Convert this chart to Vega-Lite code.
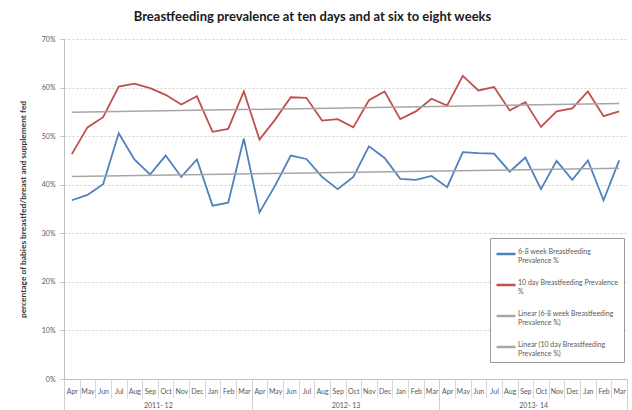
{
  "$schema": "https://vega.github.io/schema/vega-lite/v6.json",
  "width": 563,
  "height": 340,
  "autosize": "none",
  "padding": {"left": 64, "top": 39, "right": 5, "bottom": 31},
  "background": "white",
  "config": {
    "font": "Lato",
    "view": {"stroke": null}
  },
  "title": {
    "text": "Breastfeeding prevalence at ten days and at six to eight weeks",
    "fontSize": 13,
    "fontWeight": "bold",
    "font": "Lato",
    "color": "#1a1a1a",
    "anchor": "middle",
    "frame": "group",
    "dx": -33,
    "offset": 11
  },
  "data": {
    "values": [
      {"i": 0, "month": "Apr", "fy": "2011- 12", "w68": 0.368, "d10": 0.463},
      {"i": 1, "month": "May", "fy": "2011- 12", "w68": 0.379, "d10": 0.518},
      {"i": 2, "month": "Jun", "fy": "2011- 12", "w68": 0.401, "d10": 0.539},
      {"i": 3, "month": "Jul", "fy": "2011- 12", "w68": 0.506, "d10": 0.602},
      {"i": 4, "month": "Aug", "fy": "2011- 12", "w68": 0.452, "d10": 0.608},
      {"i": 5, "month": "Sep", "fy": "2011- 12", "w68": 0.421, "d10": 0.599},
      {"i": 6, "month": "Oct", "fy": "2011- 12", "w68": 0.460, "d10": 0.585},
      {"i": 7, "month": "Nov", "fy": "2011- 12", "w68": 0.416, "d10": 0.565},
      {"i": 8, "month": "Dec", "fy": "2011- 12", "w68": 0.452, "d10": 0.582},
      {"i": 9, "month": "Jan", "fy": "2011- 12", "w68": 0.357, "d10": 0.509},
      {"i": 10, "month": "Feb", "fy": "2011- 12", "w68": 0.363, "d10": 0.515},
      {"i": 11, "month": "Mar", "fy": "2011- 12", "w68": 0.495, "d10": 0.592},
      {"i": 12, "month": "Apr", "fy": "2012- 13", "w68": 0.343, "d10": 0.493},
      {"i": 13, "month": "May", "fy": "2012- 13", "w68": 0.398, "d10": 0.534},
      {"i": 14, "month": "Jun", "fy": "2012- 13", "w68": 0.460, "d10": 0.580},
      {"i": 15, "month": "Jul", "fy": "2012- 13", "w68": 0.453, "d10": 0.579},
      {"i": 16, "month": "Aug", "fy": "2012- 13", "w68": 0.416, "d10": 0.532},
      {"i": 17, "month": "Sep", "fy": "2012- 13", "w68": 0.391, "d10": 0.535},
      {"i": 18, "month": "Oct", "fy": "2012- 13", "w68": 0.416, "d10": 0.518},
      {"i": 19, "month": "Nov", "fy": "2012- 13", "w68": 0.479, "d10": 0.574},
      {"i": 20, "month": "Dec", "fy": "2012- 13", "w68": 0.455, "d10": 0.592},
      {"i": 21, "month": "Jan", "fy": "2012- 13", "w68": 0.412, "d10": 0.535},
      {"i": 22, "month": "Feb", "fy": "2012- 13", "w68": 0.410, "d10": 0.551},
      {"i": 23, "month": "Mar", "fy": "2012- 13", "w68": 0.418, "d10": 0.577},
      {"i": 24, "month": "Apr", "fy": "2013- 14", "w68": 0.395, "d10": 0.563},
      {"i": 25, "month": "May", "fy": "2013- 14", "w68": 0.467, "d10": 0.624},
      {"i": 26, "month": "Jun", "fy": "2013- 14", "w68": 0.465, "d10": 0.594},
      {"i": 27, "month": "Jul", "fy": "2013- 14", "w68": 0.464, "d10": 0.601},
      {"i": 28, "month": "Aug", "fy": "2013- 14", "w68": 0.427, "d10": 0.553},
      {"i": 29, "month": "Sep", "fy": "2013- 14", "w68": 0.456, "d10": 0.570},
      {"i": 30, "month": "Oct", "fy": "2013- 14", "w68": 0.391, "d10": 0.519},
      {"i": 31, "month": "Nov", "fy": "2013- 14", "w68": 0.449, "d10": 0.551},
      {"i": 32, "month": "Dec", "fy": "2013- 14", "w68": 0.410, "d10": 0.557},
      {"i": 33, "month": "Jan", "fy": "2013- 14", "w68": 0.450, "d10": 0.592},
      {"i": 34, "month": "Feb", "fy": "2013- 14", "w68": 0.368, "d10": 0.541},
      {"i": 35, "month": "Mar", "fy": "2013- 14", "w68": 0.450, "d10": 0.551}
    ]
  },
  "transform": [
    {"fold": ["w68", "d10"], "as": ["series", "value"]}
  ],
  "encoding": {
    "y": {
      "field": "value",
      "type": "quantitative",
      "scale": {"domain": [0, 0.7], "nice": false, "zero": true},
      "axis": {
        "values": [0, 0.1, 0.2, 0.3, 0.4, 0.5, 0.6, 0.7],
        "format": ".0%",
        "title": "percentage of babies breastfed/breast and supplement fed",
        "titleFontSize": 8.4,
        "titleFontWeight": "bold",
        "titleColor": "#333333",
        "titleX": -37,
        "titleY": 170,
        "titleAnchor": "middle",
        "labelFontSize": 7,
        "labelColor": "#595959",
        "labelPadding": 5,
        "tickSize": 4,
        "tickColor": "#bfbfbf",
        "domainColor": "#bfbfbf",
        "grid": true,
        "gridColor": "#d0d0d0",
        "gridDash": [2, 2],
        "gridWidth": 1
      }
    }
  },
  "layer": [
    {
      "mark": {"type": "line", "strokeWidth": 1.8},
      "encoding": {
        "x": {
          "field": "i",
          "type": "quantitative",
          "scale": {"domain": [-0.5, 35.5], "nice": false, "zero": false},
          "axis": {
            "orient": "bottom",
            "title": null,
            "values": [0,1,2,3,4,5,6,7,8,9,10,11,12,13,14,15,16,17,18,19,20,21,22,23,24,25,26,27,28,29,30,31,32,33,34,35],
            "labelExpr": "['Apr','May','Jun','Jul','Aug','Sep','Oct','Nov','Dec','Jan','Feb','Mar'][datum.value % 12]",
            "ticks": false,
            "grid": false,
            "labelFontSize": 7,
            "labelColor": "#595959",
            "labelPadding": 8,
            "labelFlush": false,
            "labelOverlap": false,
            "domainColor": "#bfbfbf"
          }
        },
        "color": {
          "field": "series",
          "type": "nominal",
          "scale": {
            "domain": ["w68", "d10", "lin68", "lin10"],
            "range": ["#4f81bd", "#c0504d", "#a6a6a6", "#a6a6a6"]
          },
          "legend": {
            "title": null,
            "orient": "none",
            "legendX": 426,
            "legendY": 199,
            "direction": "vertical",
            "symbolType": "stroke",
            "symbolSize": 360,
            "symbolStrokeWidth": 2.5,
            "labelFontSize": 7,
            "labelColor": "#595959",
            "labelLimit": 200,
            "labelBaseline": "alphabetic",
            "labelOffset": 1,
            "rowPadding": 10,
            "padding": 5,
            "strokeColor": "#9a9a9a",
            "fillColor": "white",
            "labelExpr": "datum.value == 'w68' ? ['6-8 week Breastfeeding', 'Prevalence %'] : datum.value == 'd10' ? ['10 day Breastfeeding Prevalence', '%'] : datum.value == 'lin68' ? ['Linear (6-8 week Breastfeeding', 'Prevalence %)'] : ['Linear (10 day Breastfeeding', 'Prevalence %)']"
          }
        }
      }
    },
    {
      "transform": [
        {"filter": "datum.series == 'w68'"},
        {"regression": "value", "on": "i"}
      ],
      "mark": {"type": "line", "strokeWidth": 1.5},
      "encoding": {
        "x": {
          "field": "i",
          "type": "quantitative",
          "scale": {"domain": [-0.5, 35.5], "nice": false, "zero": false},
          "axis": {
            "orient": "bottom",
            "title": null,
            "values": [0.5,1.5,2.5,3.5,4.5,5.5,6.5,7.5,8.5,9.5,10.5,12.5,13.5,14.5,15.5,16.5,17.5,18.5,19.5,20.5,21.5,22.5,24.5,25.5,26.5,27.5,28.5,29.5,30.5,31.5,32.5,33.5,34.5],
            "labels": false,
            "ticks": true,
            "tickSize": 19,
            "tickColor": "#d9d9d9",
            "domain": false,
            "grid": false
          }
        },
        "color": {"datum": "lin68"}
      }
    },
    {
      "transform": [
        {"filter": "datum.series == 'd10'"},
        {"regression": "value", "on": "i"}
      ],
      "mark": {"type": "line", "strokeWidth": 1.5},
      "encoding": {
        "x": {
          "field": "i",
          "type": "quantitative",
          "scale": {"domain": [-0.5, 35.5], "nice": false, "zero": false},
          "axis": {
            "orient": "bottom",
            "title": null,
            "values": [-0.5, 11.5, 23.5, 35.5],
            "labels": false,
            "ticks": true,
            "tickSize": 31,
            "tickColor": "#d0d0d0",
            "domain": false,
            "grid": false
          }
        },
        "color": {"datum": "lin10"}
      }
    },
    {
      "mark": {"type": "point", "opacity": 0},
      "encoding": {
        "x": {
          "field": "i",
          "type": "quantitative",
          "scale": {"domain": [-0.5, 35.5], "nice": false, "zero": false},
          "axis": {
            "orient": "bottom",
            "title": null,
            "values": [5.5, 17.5, 29.5],
            "labelExpr": "datum.value < 6 ? '2011- 12' : datum.value < 18 ? '2012- 13' : '2013- 14'",
            "ticks": false,
            "domain": false,
            "grid": false,
            "labelFontSize": 7,
            "labelColor": "#595959",
            "labelPadding": 22
          }
        }
      }
    }
  ],
  "resolve": {"axis": {"x": "independent"}}
}
